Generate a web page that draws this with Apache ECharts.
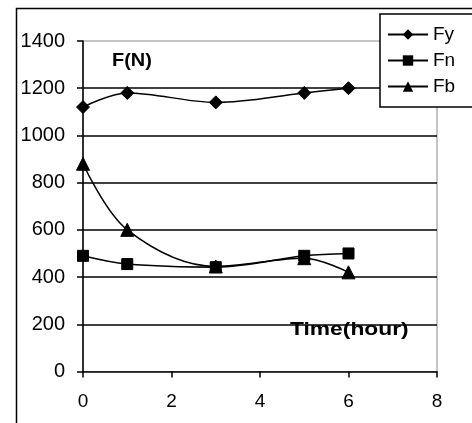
<!DOCTYPE html>
<html><head><meta charset="utf-8">
<script src="https://cdn.jsdelivr.net/npm/echarts@6/dist/echarts.min.js"></script>
<style>html,body{margin:0;padding:0;background:#fff}#c{width:472px;height:423px}</style>
</head><body><div id="c"></div>
<script>
var times = [0, 1, 3, 5, 6];
var fy = [1120, 1180, 1140, 1180, 1200];
var fn = [490, 455, 442, 490, 500];
var fb = [880, 600, 445, 480, 420];
var seriesNames = ['Fy', 'Fn', 'Fb'];
var xTicks = [0, 2, 4, 6, 8];
var yTicks = [0, 200, 400, 600, 800, 1000, 1200, 1400];
var yTitle = 'F(N)';
var xTitle = 'Time(hour)';

function pts(v) { return times.map(function (t, i) { return [t, v[i]]; }); }
var FONT = '"Liberation Sans", Arial, sans-serif';
var chart = echarts.init(document.getElementById('c'), null, {renderer: 'canvas'});
function mk(name, data, sym, size) {
  return {
    name: name, type: 'line', data: pts(data), smooth: 0.35,
    symbol: sym, symbolSize: size, showSymbol: true,
    lineStyle: {color: '#000', width: 1.5},
    itemStyle: {color: '#000', borderColor: '#000'},
    emphasis: {disabled: true}, animation: false, z: 5
  };
}
chart.setOption({
  animation: false,
  backgroundColor: '#fff',
  textStyle: {fontFamily: FONT},
  grid: {left: 83, right: 35, top: 41, bottom: 51.5, show: true, borderColor: '#888', borderWidth: 1, backgroundColor: 'transparent'},
  xAxis: {
    type: 'value', min: xTicks[0], max: xTicks[xTicks.length - 1], interval: 2,
    axisLine: {show: true, lineStyle: {color: '#000', width: 1.5}},
    axisTick: {show: true, length: 6, lineStyle: {color: '#000', width: 1.5}},
    axisLabel: {color: '#000', fontSize: 19, fontFamily: FONT, margin: 21, formatter: function (v) { return String(v); }},
    splitLine: {show: false}
  },
  yAxis: {
    type: 'value', min: yTicks[0], max: yTicks[yTicks.length - 1], interval: 200,
    axisLine: {show: true, lineStyle: {color: '#000', width: 1.5}},
    axisTick: {show: true, length: 6, lineStyle: {color: '#000', width: 1.5}},
    axisLabel: {color: '#000', fontSize: 20, fontFamily: FONT, margin: 18, formatter: function (v) { return String(v); }},
    splitLine: {show: true, showMinLine: false, showMaxLine: false, lineStyle: {color: '#000', width: 1.5}}
  },
  legend: {
    show: true, orient: 'vertical', left: 380, top: 14,
    data: seriesNames,
    backgroundColor: '#fff', borterColor: '#000', borderColor: '#000', borderWidth: 1.5,
    padding: [11, 40, 11, 7], itemGap: 7, itemWidth: 40, itemHeight: 13,
    textStyle: {color: '#000', fontSize: 19, fontFamily: FONT, padding: [0, 0, 0, 0]}
  },
  graphic: [
    {type: 'rect', left: 14, top: 6, shape: {width: 520, height: 480}, style: {fill: 'none', stroke: '#000', lineWidth: 1.5}, z: -1, silent: true},
    {type: 'text', x: 112, y: 61, style: {text: yTitle, fill: '#000', fontSize: 19, fontWeight: 'bold', fontFamily: FONT, align: 'left', verticalAlign: 'middle'}, scaleX: 1.05, z: 10},
    {type: 'text', x: 290, y: 330, style: {text: xTitle, fill: '#000', fontSize: 19, fontWeight: 'bold', fontFamily: FONT, align: 'left', verticalAlign: 'middle'}, scaleX: 1.2, z: 10}
  ],
  series: [
    mk(seriesNames[0], fy, 'diamond', 13),
    mk(seriesNames[1], fn, 'rect', 11),
    mk(seriesNames[2], fb, 'triangle', 13)
  ]
});
</script></body></html>
